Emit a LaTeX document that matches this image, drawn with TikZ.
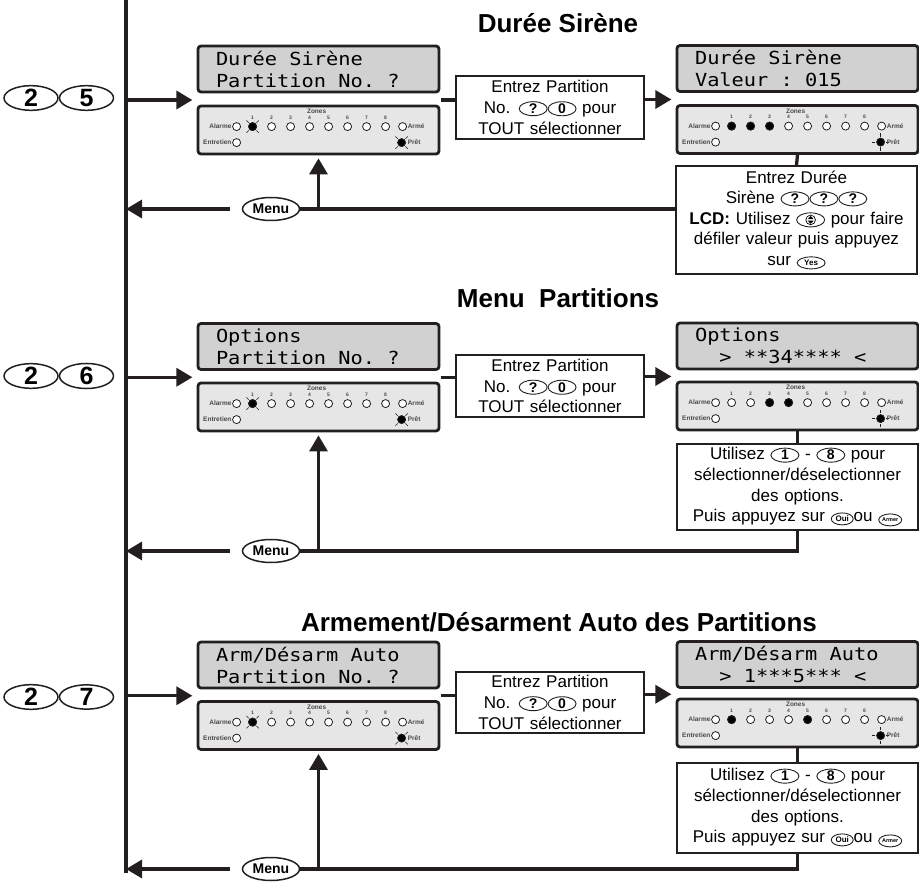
\documentclass[tikz,border=0pt]{standalone}
\usepackage{fontspec}
\setmainfont{Liberation Sans}
\newfontfamily\lcdfont[FakeStretch=1.13]{DejaVu Sans Mono}
\usetikzlibrary{arrows.meta, positioning, shapes.geometric, calc, fit}
\definecolor{cdark}{HTML}{231F20}
\definecolor{clcd}{HTML}{D1D1D1}
\definecolor{cpanel}{HTML}{E6E6E6}
\definecolor{cledtxt}{HTML}{4A4A4A}
\tikzset{
  wire/.style={draw=cdark, line width=3.3pt},
  arrow/.style={wire, -{Triangle[length=16pt, width=18pt]}},
  title/.style={font=\bfseries\fontsize{26}{26}\selectfont},
  lcd/.style={draw=cdark, fill=clcd, rounded corners=3pt, line width=2.8pt, minimum width=241pt, minimum height=46pt, text width=205pt, inner xsep=17pt, align=left, font=\lcdfont\fontsize{18}{22}\selectfont},
  panel/.style={draw=cdark, fill=cpanel, rounded corners=3pt, line width=2.8pt, minimum width=241pt, minimum height=48pt},
  txtbox/.style={draw=cdark, fill=white, line width=1.4pt, align=center, inner sep=2pt, font=\fontsize{17}{20.6}\selectfont},
  bigkey/.style={ellipse, draw=cdark, line width=1.5pt, minimum width=54pt, minimum height=22pt, inner sep=0pt, font=\bfseries\fontsize{25}{25}\selectfont},
  menukey/.style={ellipse, draw=cdark, line width=1.5pt, minimum width=57pt, minimum height=23pt, inner sep=0pt, font=\bfseries\fontsize{14}{14}\selectfont},
  kbtn/.style={ellipse, draw=cdark, line width=0.9pt, minimum width=28pt, minimum height=14pt, inner sep=0pt, font=\bfseries\fontsize{14}{14}\selectfont},
  smallkey/.style={minimum width=22pt, minimum height=12pt, font=\bfseries\fontsize{8}{8}\selectfont},
  tinykey/.style={minimum width=23pt, minimum height=12pt, font=\bfseries\fontsize{5.5}{5.5}\selectfont},
  led/.style={circle, draw=cdark, fill=white, line width=0.8pt, minimum size=8pt, inner sep=0pt},
  ledon/.style={fill=black},
  ray/.style={draw=cdark, line width=0.6pt, shorten <=1pt},
  blinkx/.style={ledon, append after command={
    (\tikzlastnode.45) edge[ray] ($(\tikzlastnode.center)!2!(\tikzlastnode.45)$)
    (\tikzlastnode.135) edge[ray] ($(\tikzlastnode.center)!2!(\tikzlastnode.135)$)
    (\tikzlastnode.225) edge[ray] ($(\tikzlastnode.center)!2!(\tikzlastnode.225)$)
    (\tikzlastnode.315) edge[ray] ($(\tikzlastnode.center)!2!(\tikzlastnode.315)$)}},
  blinkplus/.style={ledon, append after command={
    (\tikzlastnode.0) edge[ray] ($(\tikzlastnode.center)!2!(\tikzlastnode.0)$)
    (\tikzlastnode.90) edge[ray] ($(\tikzlastnode.center)!2!(\tikzlastnode.90)$)
    (\tikzlastnode.180) edge[ray] ($(\tikzlastnode.center)!2!(\tikzlastnode.180)$)
    (\tikzlastnode.270) edge[ray] ($(\tikzlastnode.center)!2!(\tikzlastnode.270)$)}},
  ledtxt/.style={text=cledtxt, inner sep=0.5pt, font=\bfseries\fontsize{6.5}{6.5}\selectfont},
  digtxt/.style={text=cledtxt, inner sep=0pt, font=\bfseries\fontsize{5}{5}\selectfont},
  pics/leds/.style 2 args={code={
    \node[ledtxt] (-zones) at (120,7) {Zones};
    \foreach \z in {1,...,8} {
      \node[digtxt] (-d\z) at (37+19*\z,13) {\z};
      \node[led] (-z\z) at (37+19*\z,22) {};
    }
    \foreach \z/\s in {#1} \node[led,\s] (-on\z) at (37+19*\z,22) {};
    \node[led] (-alarm) at (40,22) {};
    \node[ledtxt, anchor=east] (-alarmtxt) at (35.5,22) {Alarme};
    \node[led] (-arm) at (206,22) {};
    \node[ledtxt, anchor=west] (-armtxt) at (210.5,22) {Armé};
    \node[led] (-maint) at (40,38) {};
    \node[ledtxt, anchor=east] (-mainttxt) at (35.5,38) {Entretien};
    \node[led,#2] (-ready) at (205,38) {};
    \node[ledtxt, anchor=west] (-readytxt) at (210.5,38) {Prêt};
  }},
}
\newcommand{\lsp}{\hphantom{x}}
\newcommand{\kb}[2][]{\tikz[baseline=(kb.base)]\node[kbtn,#1] (kb) {#2};}
\newcommand{\kbud}{\tikz[baseline=-4.5pt]{\node[kbtn] (ud) {};
  \draw[line width=0.7pt] (ud.center) circle[radius=4.8pt];
  \fill ([shift={(-3pt,0.7pt)}]ud.center) -- ++(6pt,0pt) -- ++(-3pt,3.2pt) -- cycle;
  \fill ([shift={(-3pt,-0.7pt)}]ud.center) -- ++(6pt,0pt) -- ++(-3pt,-3.2pt) -- cycle;}}
\begin{document}
\begin{tikzpicture}[x=1pt, y=-1pt]
  \useasboundingbox (0,0) rectangle (919,882);
  % main line
  \coordinate (top) at (126,0);
  \coordinate (bot) at (126,873);
  \draw[wire] (top) -- (bot);

  % 25 Durée Sirène
  \node[bigkey] (k25a) at (31,98) {2};
  \node[bigkey, right=0pt of k25a] (k25b) {5};
  \node[title] (tDuree) at (558,23) {Durée Sirène};
  \node[lcd] (lcdA) at (318.5,69) {Durée\lsp Sirène\\Partition\lsp No.\lsp ?};
  \node[panel] (ledA) at (318.5,130) {};
  \pic (lA) at (ledA.north west) {leds={1/blinkx}{blinkx}};
  \node[fit=(lcdA)(ledA), inner sep=0pt] (kpA) {};
  \node[txtbox, text width=184pt, minimum height=63pt] (bA) at (550,107.5) {Entrez Partition\\No. \kb{?}\kb{0} pour\\TOUT sélectionner};
  \node[lcd] (lcdB) at (797.5,68.5) {Durée\lsp Sirène\\Valeur\lsp :\lsp 015};
  \node[panel] (ledB) at (797.5,129.5) {};
  \pic (lB) at (ledB.north west) {leds={1/ledon,2/ledon,3/ledon}{blinkplus}};
  \node[fit=(lcdB)(ledB), inner sep=0pt] (kpB) {};
  \node[txtbox, text width=237pt, minimum height=108pt] (nB) at (796.5,220) {Entrez Durée\\Sirène \kb{?}\kb{?}\kb{?}\\\textbf{LCD:} Utilisez \kbud{} pour faire\\défiler valeur puis appuyez\\sur \kb[smallkey, minimum width=28pt]{Yes}};
  \node[menukey] (mA) at (271,209) {Menu};
  \draw[arrow] (top |- kpA.west) -- ([xshift=-4pt]kpA.west);
  \draw[wire] (kpA.east) -- (bA.west |- kpA.east);
  \draw[arrow] (bA.east |- kpB.west) -- ([xshift=-4pt]kpB.west);
  \draw[wire] (ledB.south) -- (nB.north);
  \draw[wire] (nB.west |- mA) -- (mA.east);
  \draw[arrow] (ledA.south |- mA) -- ([yshift=-3pt]ledA.south);
  \draw[arrow, shorten <=12pt] (mA.west) -- (top |- mA);

  % 26 Menu Partitions
  \node[bigkey] (k26a) at (31,376) {2};
  \node[bigkey, right=0pt of k26a] (k26b) {6};
  \node[title] (tMenu) at (558,298) {Menu\ \ Partitions};
  \node[lcd] (lcdC) at (318.5,346.5) {Options\\Partition\lsp No.\lsp ?};
  \node[panel] (ledC) at (318.5,407) {};
  \pic (lC) at (ledC.north west) {leds={1/blinkx}{blinkx}};
  \node[fit=(lcdC)(ledC), inner sep=0pt] (kpC) {};
  \node[txtbox, text width=184pt, minimum height=62pt] (bC) at (550,386) {Entrez Partition\\No. \kb{?}\kb{0} pour\\TOUT sélectionner};
  \node[lcd] (lcdD) at (797.5,346) {Options\\\lsp\lsp>\lsp**34****\lsp<};
  \node[panel] (ledD) at (797.5,406) {};
  \pic (lD) at (ledD.north west) {leds={3/ledon,4/ledon}{blinkplus}};
  \node[fit=(lcdD)(ledD), inner sep=0pt] (kpD) {};
  \node[txtbox, text width=237pt, minimum height=86pt] (nD) at (797.5,487) {Utilisez \kb{1} - \kb{8} pour\\sélectionner/déselectionner\\des options.\\Puis appuyez sur \kb[smallkey]{Oui}ou \kb[tinykey]{Armer}};
  \node[menukey] (mC) at (271,551) {Menu};
  \draw[arrow] (top |- kpC.west) -- ([xshift=-4pt]kpC.west);
  \draw[wire] (kpC.east) -- (bC.west |- kpC.east);
  \draw[arrow] (bC.east |- kpD.west) -- ([xshift=-4pt]kpD.west);
  \draw[wire] (ledD.south) -- (nD.north);
  \draw[wire] (nD.south) |- (mC.east);
  \draw[arrow] (ledC.south |- mC) -- ([yshift=-3pt]ledC.south);
  \draw[arrow, shorten <=12pt] (mC.west) -- (top |- mC);

  % 27 Armement/Désarment Auto
  \node[bigkey] (k27a) at (31,697) {2};
  \node[bigkey, right=0pt of k27a] (k27b) {7};
  \node[title] (tArm) at (559,622) {Armement/Désarment Auto des Partitions};
  \node[lcd] (lcdE) at (318.5,665) {Arm/Désarm\lsp Auto\\Partition\lsp No.\lsp ?};
  \node[panel] (ledE) at (318.5,725.5) {};
  \pic (lE) at (ledE.north west) {leds={1/blinkx}{blinkx}};
  \node[fit=(lcdE)(ledE), inner sep=0pt] (kpE) {};
  \node[txtbox, text width=184pt, minimum height=61pt] (bE) at (550,702.5) {Entrez Partition\\No. \kb{?}\kb{0} pour\\TOUT sélectionner};
  \node[lcd] (lcdF) at (797.5,664.5) {Arm/Désarm\lsp Auto\\\lsp\lsp>\lsp 1***5***\lsp<};
  \node[panel] (ledF) at (797.5,723) {};
  \pic (lF) at (ledF.north west) {leds={1/ledon,5/ledon}{blinkplus}};
  \node[fit=(lcdF)(ledF), inner sep=0pt] (kpF) {};
  \node[txtbox, text width=237pt, minimum height=90pt] (nF) at (797.5,808) {Utilisez \kb{1} - \kb{8} pour\\sélectionner/déselectionner\\des options.\\Puis appuyez sur \kb[smallkey]{Oui}ou \kb[tinykey]{Armer}};
  \node[menukey] (mE) at (271,869) {Menu};
  \draw[arrow] (top |- kpE.west) -- ([xshift=-4pt]kpE.west);
  \draw[wire] (kpE.east) -- (bE.west |- kpE.east);
  \draw[arrow] (bE.east |- kpF.west) -- ([xshift=-4pt]kpF.west);
  \draw[wire] (ledF.south) -- (nF.north);
  \draw[wire] (nF.south) |- (mE.east);
  \draw[arrow] (ledE.south |- mE) -- ([yshift=-3pt]ledE.south);
  \draw[arrow, shorten <=12pt] (mE.west) -- (top |- mE);
\end{tikzpicture}
\end{document}
